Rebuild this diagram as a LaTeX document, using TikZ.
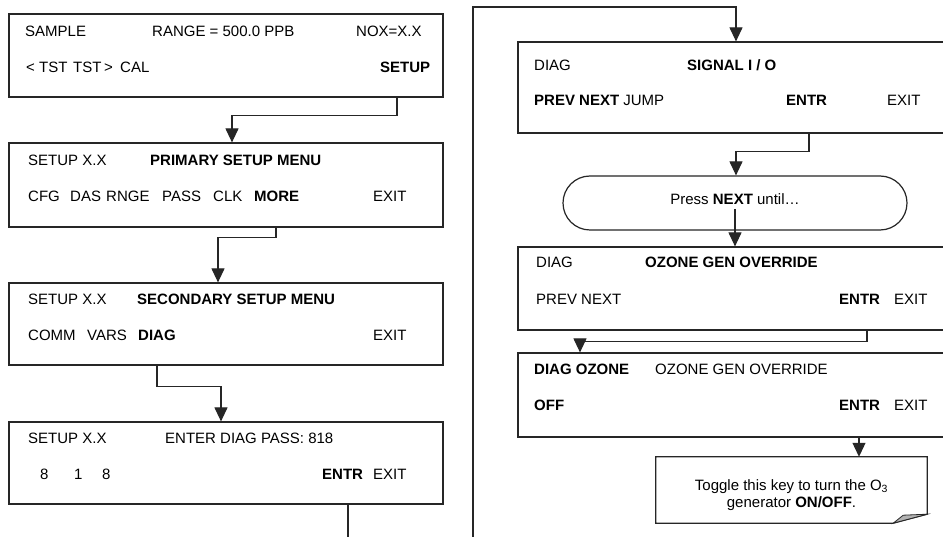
\documentclass[tikz,border=0pt]{standalone}
\usepackage{fontspec}
\setmainfont{Liberation Sans}
\usetikzlibrary{arrows.meta,calc}
\tikzset{
  box/.style={draw=black!85, line width=1.2pt, rectangle, inner sep=0pt},
  lbl/.style={anchor=base west, inner sep=0pt, font=\fontsize{15}{18}\selectfont},
  clbl/.style={anchor=base, inner sep=0pt, font=\fontsize{15}{18}\selectfont},
  conn/.style={draw=black!85, line width=1.1pt},
  arr/.style={conn, -{Triangle[width=13pt,length=14pt]}},
}
\begin{document}
\begin{tikzpicture}[x=1pt,y=-1pt]
\clip (0,0) rectangle (943,537);
\fill[white] (0,0) rectangle (943,537);
% ---------- left column boxes
\node[box, minimum width=434pt, minimum height=83pt] (b1) at (226,55.5) {};
\node[box, minimum width=434pt, minimum height=84pt] (b2) at (226,185) {};
\node[box, minimum width=434pt, minimum height=82pt] (b3) at (226,324) {};
\node[box, minimum width=434pt, minimum height=82pt] (b4) at (226,463) {};
% ---------- right column boxes
\node[box, minimum width=450pt, minimum height=91pt] (b5) at (743,87.5) {};
\node[box, rounded corners=27pt, minimum width=344pt, minimum height=54pt] (r1) at (735,203) {};
\node[box, minimum width=450pt, minimum height=83pt] (b6) at (743,288.5) {};
\node[box, minimum width=450pt, minimum height=84pt] (b7) at (743,395) {};
% note box
\node[inner sep=0pt, minimum width=271pt, minimum height=66pt] (note) at (791.5,490) {};
\draw[fill=white, draw=black!85, line width=1.2pt] (note.north west) -- (note.north east)
  -- ($(note.south east)+(0,-9)$) -- ($(note.south east)+(-34,0)$) -- (note.south west) -- cycle;
\draw[fill=black!30, draw=black!85, line width=0.8pt] ($(note.south east)+(-34,0)$)
  -- ($(note.south east)+(-24,-8)$) -- ($(note.south east)+(0,-9)$) -- cycle;

% ---------- texts box 1
\node[lbl] (t1a) at (25,37) {SAMPLE};
\node[lbl] (t1b) at (152,37) {RANGE = 500.0 PPB};
\node[lbl] (t1c) at (356,37) {NOX=X.X};
\node[lbl] (t1d) at (26,72.5) {<};
\node[lbl] (t1e) at (39,72.5) {TST};
\node[lbl] (t1f) at (73,72.5) {TST};
\node[lbl] (t1g) at (104,72.5) {>};
\node[lbl] (t1h) at (120,72.5) {CAL};
\node[lbl] (t1i) at (380,72.5) {\bfseries SETUP};
% box 2
\node[lbl] (t2a) at (28,166) {SETUP X.X};
\node[lbl] (t2b) at (150,166) {\bfseries PRIMARY SETUP MENU};
\node[lbl] (t2c) at (28,201.5) {CFG};
\node[lbl] (t2d) at (70,201.5) {DAS};
\node[lbl] (t2e) at (106,201.5) {RNGE};
\node[lbl] (t2f) at (162,201.5) {PASS};
\node[lbl] (t2g) at (213,201.5) {CLK};
\node[lbl] (t2h) at (254,201.5) {\bfseries MORE};
\node[lbl] (t2i) at (373,201.5) {EXIT};
% box 3
\node[lbl] (t3a) at (28,305) {SETUP X.X};
\node[lbl] (t3b) at (137,305) {\bfseries SECONDARY SETUP MENU};
\node[lbl] (t3c) at (28,340.5) {COMM};
\node[lbl] (t3d) at (87,340.5) {VARS};
\node[lbl] (t3e) at (138,340.5) {\bfseries DIAG};
\node[lbl] (t3f) at (373,340.5) {EXIT};
% box 4
\node[lbl] (t4a) at (28,443) {SETUP X.X};
\node[lbl] (t4b) at (165,443) {ENTER DIAG PASS: 818};
\node[lbl] (t4c) at (40,479) {8};
\node[lbl] (t4d) at (74,479) {1};
\node[lbl] (t4e) at (102,479) {8};
\node[lbl] (t4f) at (322,479) {\bfseries ENTR};
\node[lbl] (t4g) at (373,479) {EXIT};
% box 5
\node[lbl] (t5a) at (534,71) {DIAG};
\node[lbl] (t5b) at (687,71) {\bfseries SIGNAL I / O};
\node[lbl] (t5c) at (534,106) {\textbf{PREV NEXT} JUMP};
\node[lbl] (t5d) at (786,106) {\bfseries ENTR};
\node[lbl] (t5e) at (887,106) {EXIT};
% rounded
\node[clbl] (tr) at (735,205) {Press \textbf{NEXT} until…};
% box 6
\node[lbl] (t6a) at (536,268) {DIAG};
\node[lbl] (t6b) at (645,268) {\bfseries OZONE GEN OVERRIDE};
\node[lbl] (t6c) at (536,305) {PREV NEXT};
\node[lbl] (t6d) at (839,305) {\bfseries ENTR};
\node[lbl] (t6e) at (894,305) {EXIT};
% box 7
\node[lbl] (t7a) at (534,375) {\bfseries DIAG OZONE};
\node[lbl] (t7b) at (655,375) {OZONE GEN OVERRIDE};
\node[lbl] (t7c) at (534,410.7) {\bfseries OFF};
\node[lbl] (t7d) at (839,410.7) {\bfseries ENTR};
\node[lbl] (t7e) at (894,410.7) {EXIT};
% note
\node[clbl] (tn1) at (791.5,490) {Toggle this key to turn the O\textsubscript{3}};
\node[clbl] (tn2) at (791.5,507) {generator \textbf{ON/OFF}.};

% ---------- connector x positions
\coordinate (x1) at (397,0);  \coordinate (x1t) at (232,0);
\coordinate (x2) at (276,0);  \coordinate (x2t) at (218,0);
\coordinate (x3) at (157,0);  \coordinate (x3t) at (221,0);
\coordinate (x4) at (348,0);
\coordinate (bot4) at (348,540);
\coordinate (botR) at (473,540);
\coordinate (topR) at (473,7);
\coordinate (x5t) at (736,0);
\coordinate (x6) at (809,0);
\coordinate (x8) at (867,0);  \coordinate (x8t) at (580,0);
\coordinate (x9) at (859,0);

\draw[arr] (b1.south -| x1) -- ++(0,18) -| (b2.north -| x1t);
\draw[arr] (b2.south -| x2) -- ++(0,10) -| (b3.north -| x2t);
\draw[arr] (b3.south -| x3) -- ++(0,21) -| (b4.north -| x3t);
\draw[conn] (b4.south -| x4) -- (bot4);
\draw[arr] (botR) -- (topR) -| (b5.north -| x5t);
\draw[arr] (b5.south -| x6) -- ++(0,18) -| (r1.north -| x5t);
\draw[arr] ($(r1.center)+(0,6)$) -- (b6.north -| r1.center);
\draw[arr] (b6.south -| x8) -- ++(0,11) -| (b7.north -| x8t);
\draw[arr] (b7.south -| x9) -- (note.north -| x9);
\end{tikzpicture}
\end{document}
